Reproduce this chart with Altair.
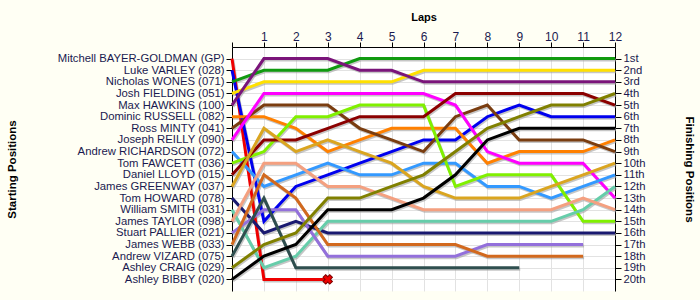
import altair as alt
import pandas as pd

laps = list(range(0, 13))

starters = [
    "Mitchell BAYER-GOLDMAN (GP)", "Luke VARLEY (028)", "Nicholas WONES (071)",
    "Josh FIELDING (051)", "Max HAWKINS (100)", "Dominic RUSSELL (082)",
    "Ross MINTY (041)", "Joseph REILLY (090)", "Andrew RICHARDSON (072)",
    "Tom FAWCETT (036)", "Daniel LLOYD (015)", "James GREENWAY (037)",
    "Tom HOWARD (078)", "William SMITH (031)", "James TAYLOR (098)",
    "Stuart PALLIER (021)", "James WEBB (033)", "Andrew VIZARD (075)",
    "Ashley CRAIG (029)", "Ashley BIBBY (020)",
]

finish_labels = ["1st", "2nd", "3rd", "4th", "5th", "6th", "7th", "8th", "9th", "10th",
                 "11th", "12th", "13th", "14th", "15th", "16th", "17th", "18th", "19th", "20th"]

colors = [
    "#ee0000", "#0000ee", "#109a10", "#ffe000", "#7a147a", "#ff8000", "#7a3d10",
    "#ff00ff", "#3399ff", "#80f000", "#8b0000", "#daa520", "#191970", "#66cdaa",
    "#f4a080", "#9370db", "#d2691e", "#2f4f4f", "#808000", "#000000",
]

# position at end of each lap (index 0 = grid position)
positions = [
    [1, 20, 20, 20],
    [2, 15, 12, 11, 10, 9, 8, 8, 6, 5, 6, 6, 6],
    [3, 2, 2, 2, 1, 1, 1, 1, 1, 1, 1, 1, 1],
    [4, 3, 3, 3, 3, 3, 2, 2, 2, 2, 2, 2, 2],
    [5, 1, 1, 1, 2, 2, 3, 3, 3, 3, 3, 3, 3],
    [6, 6, 7, 9, 8, 7, 7, 7, 10, 9, 9, 9, 8],
    [7, 5, 5, 5, 7, 8, 9, 6, 5, 8, 8, 8, 9],
    [8, 4, 4, 4, 4, 4, 4, 5, 9, 10, 10, 10, 13],
    [9, 12, 11, 10, 11, 11, 10, 10, 12, 12, 13, 12, 11],
    [10, 9, 6, 6, 5, 5, 5, 12, 11, 11, 11, 15, 15],
    [11, 8, 8, 7, 6, 6, 6, 4, 4, 4, 4, 4, 5],
    [12, 7, 9, 8, 9, 10, 12, 13, 13, 13, 12, 11, 10],
    [13, 16, 15, 16, 16, 16, 16, 16, 16, 16, 16, 16, 16],
    [14, 19, 18, 15, 15, 15, 15, 15, 15, 15, 15, 14, 12],
    [15, 10, 10, 12, 12, 13, 14, 14, 14, 14, 14, 13, 14],
    [16, 14, 14, 18, 18, 18, 18, 18, 17, 17, 17, 17],
    [17, 11, 13, 17, 17, 17, 17, 17, 18, 18, 18, 18],
    [18, 13, 19, 19, 19, 19, 19, 19, 19, 19],
    [19, 17, 16, 13, 13, 12, 11, 9, 7, 6, 5, 5, 4],
    [20, 18, 17, 14, 14, 14, 13, 11, 8, 7, 7, 7, 7],
]

retired = [{"driver": starters[0], "lap": 3, "pos": 20}]

rows = []
for i, (name, pos) in enumerate(zip(starters, positions)):
    for lap, p in enumerate(pos):
        rows.append({"driver": name, "order": i, "lap": lap, "pos": p})
df = pd.DataFrame(rows)
ret_df = pd.DataFrame(retired)

left_expr = "[''," + ",".join("'" + s + "'" for s in starters) + "][datum.value]"
right_expr = "[''," + ",".join("'" + s + "'" for s in finish_labels) + "][datum.value]"

FONT = "Liberation Sans"
LABEL_COLOR = "#1a1a50"

xscale = alt.Scale(domain=[0, 12], nice=False, zero=False)
yscale = alt.Scale(domain=[0, 21], reverse=True, nice=False, zero=False)

color = alt.Color("driver:N", scale=alt.Scale(domain=starters, range=colors), legend=None)

x_top = alt.X("lap:Q", scale=xscale, axis=alt.Axis(
    orient="top", values=laps, title="Laps", labelExpr="datum.value == 0 ? '' : datum.value",
    grid=True, gridColor="#e2e2e2", domainColor="#000000", tickColor="#000000",
    tickSize=5, labelFont=FONT, labelFontSize=12, labelColor=LABEL_COLOR, labelPadding=-1,
    labelOverlap=False, labelFlush=False,
    titleFont=FONT, titleFontSize=11, titleFontWeight="bold", titlePadding=8, labelAngle=0))

y_left = alt.Y("pos:Q", scale=yscale, axis=alt.Axis(
    orient="left", values=list(range(1, 21)), labelExpr=left_expr, title="Starting Positions",
    grid=True, gridColor="#e2e2e2", domainColor="#000000", tickColor="#000000",
    tickSize=6, labelFont=FONT, labelFontSize=11.3, labelColor=LABEL_COLOR, labelPadding=2,
    labelOverlap=False, labelFlush=False,
    titleFont=FONT, titleFontSize=11.5, titleFontWeight="bold", titleX=-215, titleY=122))

y_right = alt.Y("pos:Q", scale=yscale, axis=alt.Axis(
    orient="right", values=list(range(1, 21)), labelExpr=right_expr, title="Finishing Positions",
    grid=False, domainColor="#000000", tickColor="#000000",
    tickSize=6, labelFont=FONT, labelFontSize=11.3, labelColor=LABEL_COLOR, labelPadding=2,
    labelOverlap=False, labelFlush=False,
    titleFont=FONT, titleFontSize=11.5, titleFontWeight="bold", titleX=68, titleY=122))

shadow = alt.Chart(df).mark_line(strokeWidth=3, color="#a0a0a0", opacity=0.6,
                                 xOffset=1, yOffset=1.5, strokeJoin="miter").encode(
    x=alt.X("lap:Q", scale=xscale, axis=None),
    y=y_right,
    detail="driver:N",
    order="lap:Q",
)

lines = alt.Chart(df).mark_line(strokeWidth=3, strokeJoin="miter").encode(
    x=x_top,
    y=y_left,
    color=color,
    detail="driver:N",
    order="lap:Q",
)

marker = alt.Chart(ret_df).mark_point(shape="cross", angle=45, size=90, filled=True,
                                      color="#ee0000", stroke="#800000", strokeWidth=1,
                                      opacity=1).encode(
    x=alt.X("lap:Q", scale=xscale, axis=None),
    y=alt.Y("pos:Q", scale=yscale, axis=None),
)

chart = alt.layer(shadow, lines, marker).resolve_axis(y="independent", x="independent").properties(
    width=383, height=244,
    autosize=alt.AutoSizeParams(type="none"),
    padding={"left": 232, "top": 47, "right": 85, "bottom": 9},
    background="#fffff4",
).configure_view(stroke=None, fill="#ffffff")

chart.save("out.html", embed_options={"renderer": "svg", "actions": False})
